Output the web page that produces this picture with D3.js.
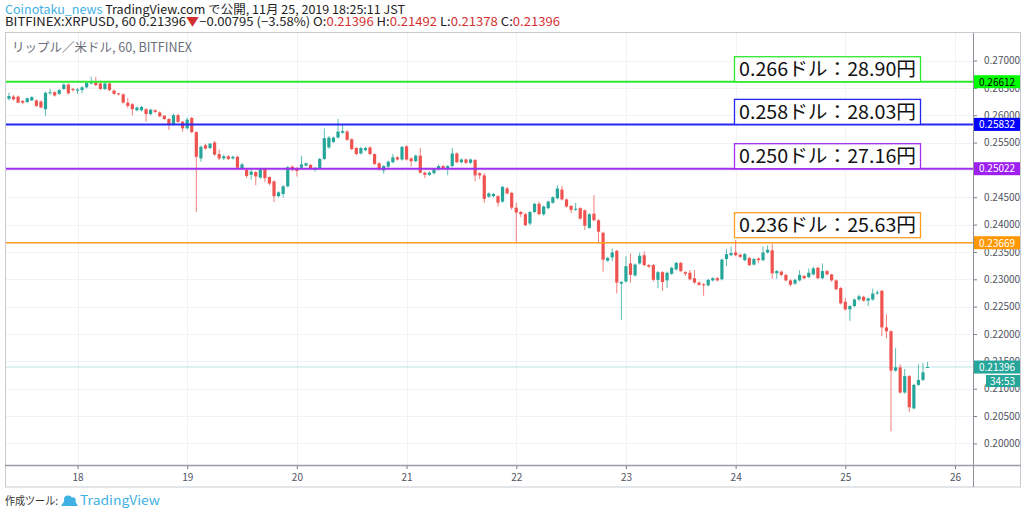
<!DOCTYPE html>
<html><head><meta charset="utf-8">
<script src="https://cdn.jsdelivr.net/npm/d3@7"></script>
<style>
body{margin:0;background:#fff}
svg{display:block}
text{font-family:'Noto Sans CJK JP','Noto Sans',sans-serif}
</style>
</head><body>
<svg id="c" width="1024" height="514"></svg>
<script>
// ===== DATA (1h candles, BITFINEX XRPUSD, from 2019-11-17 09:00) =====
const opens=[
0.2630,0.2634,0.2634,0.2626,0.2624,0.2627,0.2627,0.2625,0.2611,0.2640,
0.2642,0.2639,0.2648,0.2656,0.2648,0.2645,0.2646,0.2651,0.2658,0.2661,
0.2658,0.2648,0.2658,0.2645,0.2640,0.2638,0.2623,0.2620,0.2609,0.2609,
0.2611,0.2602,0.2609,0.2605,0.2599,0.2593,0.2583,0.2600,0.2588,0.2576,
0.2595,0.2569,0.2521,0.2545,0.2540,0.2550,0.2529,0.2521,0.2525,0.2521,
0.2524,
0.2503,0.2500,0.2491,0.2496,0.2486,0.2502,0.2487,0.2479,0.2452,0.2456,
0.2470,0.2506,0.2503,0.2504,0.2508,0.2509,0.2500,0.2503,0.2520,0.2541,
0.2551,0.2559,0.2568,0.2570,0.2556,0.2540,0.2530,
0.2536,0.2541,0.2529,0.2512,0.2499,0.2506,0.2514,0.2523,0.2519,0.2543,
0.2521,0.2516,0.2526,0.2495,0.2491,0.2494,0.2501,0.2507,0.2503,0.2507,
0.2530,0.2514,0.2519,0.2513,0.2518,0.2494,0.2490,
0.2451,0.2452,0.2452,0.2442,0.2466,0.2458,0.2431,0.2423,0.2419,0.2402,
0.2423,0.2438,0.2419,0.2430,0.2440,0.2448,0.2464,0.2446,0.2434,0.2427,
0.2430,0.2426,0.2394,0.2420,0.2408,0.2385,
0.2334,0.2340,0.2352,0.2292,0.2296,0.2329,0.2307,0.2329,0.2344,0.2326,
0.2326,0.2299,0.2313,0.2298,0.2310,0.2318,0.2330,0.2313,0.2312,0.2302,
0.2294,0.2291,0.2289,0.2298,0.2302,0.2300,
0.2337,0.2344,0.2349,0.2345,0.2335,0.2339,0.2327,0.2338,0.2335,0.2349,
0.2353,0.2311,0.2314,0.2308,0.2298,0.2292,0.2298,0.2306,0.2304,0.2309,
0.2321,0.2302,0.2315,0.2309,0.2298,0.2284,
0.2259,0.2245,0.2251,0.2263,0.2268,0.2261,0.2263,0.2274,0.2279,0.2212,
0.2205,0.2133,0.2139,0.2093,0.2123,0.2064,0.2107,0.2116,0.21396
];
const highs=[
0.2641,0.2637,0.2636,0.2628,0.2632,0.2635,0.2629,0.2627,0.2643,0.2648,
0.2644,0.2648,0.2658,0.2658,0.2650,0.2650,0.2653,0.2661,0.2670,0.2670,
0.2663,0.2661,0.2660,0.2647,0.2641,0.2640,0.2631,0.2622,0.2616,0.2617,
0.2613,0.2612,0.2611,0.2607,0.2600,0.2595,0.2603,0.2603,0.2590,0.2596,
0.2597,0.2571,0.2545,0.2548,0.2549,0.2553,0.2537,0.2528,0.2527,0.2526,
0.2526,
0.2513,0.2503,0.2500,0.2498,0.2504,0.2504,0.2488,0.2481,0.2461,0.2472,
0.2507,0.2508,0.2505,0.2526,0.2514,0.2511,0.2505,0.2522,0.2576,0.2562,
0.2561,0.2593,0.2582,0.2573,0.2558,0.2542,0.2542,
0.2542,0.2543,0.2530,0.2514,0.2509,0.2517,0.2529,0.2525,0.2544,0.2545,
0.2523,0.2528,0.2540,0.2497,0.2497,0.2503,0.2510,0.2509,0.2509,0.2540,
0.2532,0.2521,0.2521,0.2521,0.2520,0.2496,0.2494,
0.2459,0.2458,0.2454,0.2471,0.2469,0.2460,0.2440,0.2425,0.2421,0.2425,
0.2440,0.2442,0.2435,0.2444,0.2452,0.2472,0.2471,0.2448,0.2436,0.2440,
0.2432,0.2428,0.2421,0.2454,0.2410,0.2387,
0.2341,0.2356,0.2354,0.2297,0.2342,0.2347,0.2329,0.2349,0.2351,0.2328,
0.2328,0.2315,0.2315,0.2314,0.2323,0.2332,0.2332,0.2315,0.2317,0.2317,
0.2296,0.2293,0.2301,0.2304,0.2304,0.2338,
0.2355,0.2360,0.2372,0.2347,0.2348,0.2341,0.2339,0.2340,0.2360,0.2362,
0.2365,0.2317,0.2316,0.2310,0.2300,0.2301,0.2317,0.2308,0.2320,0.2323,
0.2323,0.2329,0.2317,0.2310,0.2300,0.2286,
0.2266,0.2253,0.2265,0.2272,0.2270,0.2267,0.2283,0.2280,0.2281,0.2236,
0.2207,0.2174,0.2145,0.2136,0.2125,0.2109,0.2145,0.2147,0.21492
];
const lows=[
0.2627,0.2627,0.2622,0.2620,0.2622,0.2626,0.2615,0.2613,0.2599,0.2637,
0.2634,0.2637,0.2646,0.2638,0.2643,0.2639,0.2640,0.2649,0.2656,0.2653,
0.2646,0.2646,0.2644,0.2637,0.2636,0.2621,0.2613,0.2600,0.2607,0.2607,
0.2588,0.2600,0.2604,0.2596,0.2591,0.2573,0.2581,0.2586,0.2570,0.2574,
0.2567,0.2423,0.2515,0.2537,0.2538,0.2526,0.2518,0.2518,0.2518,0.2519,
0.2500,
0.2500,0.2485,0.2482,0.2472,0.2484,0.2478,0.2472,0.2441,0.2450,0.2450,
0.2468,0.2497,0.2488,0.2502,0.2506,0.2500,0.2497,0.2501,0.2518,0.2539,
0.2549,0.2558,0.2566,0.2553,0.2536,0.2527,0.2528,
0.2534,0.2527,0.2509,0.2499,0.2493,0.2504,0.2512,0.2517,0.2517,0.2517,
0.2506,0.2514,0.2493,0.2485,0.2489,0.2492,0.2499,0.2501,0.2490,0.2505,
0.2512,0.2512,0.2511,0.2511,0.2479,0.2483,0.2440,
0.2449,0.2450,0.2433,0.2440,0.2455,0.2427,0.2367,0.2414,0.2397,0.2399,
0.2421,0.2417,0.2416,0.2428,0.2438,0.2446,0.2444,0.2431,0.2421,0.2425,
0.2409,0.2390,0.2392,0.2406,0.2366,0.2314,
0.2332,0.2333,0.2274,0.2226,0.2294,0.2294,0.2305,0.2327,0.2324,0.2321,
0.2296,0.2284,0.2279,0.2284,0.2308,0.2316,0.2313,0.2306,0.2298,0.2292,
0.2288,0.2270,0.2287,0.2296,0.2296,0.2298,
0.2324,0.2342,0.2342,0.2339,0.2333,0.2324,0.2325,0.2330,0.2333,0.2347,
0.2301,0.2301,0.2306,0.2296,0.2287,0.2290,0.2296,0.2300,0.2302,0.2307,
0.2300,0.2300,0.2307,0.2296,0.2280,0.2254,
0.2243,0.2224,0.2249,0.2261,0.2259,0.2251,0.2261,0.2272,0.2196,0.2192,
0.2022,0.2131,0.2091,0.2091,0.2057,0.2062,0.2105,0.2114,0.21378
];
const closes=[
0.2635,0.2629,0.2623,0.2623,0.2631,0.2633,0.2617,0.2614,0.2641,0.2642,
0.2636,0.2646,0.2656,0.2640,0.2646,0.2647,0.2651,0.2659,0.2662,0.2655,
0.2648,0.2658,0.2646,0.2639,0.2638,0.2623,0.2617,0.2611,0.2614,0.2615,
0.2602,0.2610,0.2606,0.2598,0.2593,0.2583,0.2600,0.2588,0.2576,0.2592,
0.2569,0.2524,0.2542,0.2539,0.2548,0.2528,0.2521,0.2525,0.2520,0.2524,
0.2504,
0.2510,0.2489,0.2497,0.2488,0.2502,0.2485,0.2475,0.2452,0.2459,0.2470,
0.2505,0.2500,0.2498,0.2510,0.2512,0.2502,0.2504,0.2520,0.2558,0.2559,
0.2559,0.2570,0.2571,0.2555,0.2538,0.2529,0.2540,
0.2540,0.2529,0.2511,0.2501,0.2507,0.2515,0.2523,0.2519,0.2542,0.2519,
0.2516,0.2526,0.2495,0.2491,0.2495,0.2501,0.2507,0.2503,0.2507,0.2530,
0.2514,0.2519,0.2513,0.2519,0.2490,0.2490,0.2447,
0.2457,0.2456,0.2440,0.2469,0.2457,0.2431,0.2422,0.2419,0.2399,0.2423,
0.2438,0.2419,0.2433,0.2442,0.2450,0.2466,0.2446,0.2433,0.2427,0.2429,
0.2411,0.2398,0.2419,0.2408,0.2387,0.2336,
0.2339,0.2349,0.2294,0.2295,0.2324,0.2308,0.2327,0.2343,0.2326,0.2323,
0.2299,0.2313,0.2295,0.2312,0.2321,0.2330,0.2315,0.2310,0.2300,0.2294,
0.2290,0.2289,0.2299,0.2302,0.2298,0.2336,
0.2346,0.2348,0.2344,0.2341,0.2346,0.2326,0.2337,0.2335,0.2349,0.2354,
0.2311,0.2315,0.2308,0.2298,0.2290,0.2299,0.2308,0.2302,0.2312,0.2320,
0.2302,0.2315,0.2309,0.2298,0.2282,0.2256,
0.2245,0.2251,0.2263,0.2269,0.2261,0.2265,0.2274,0.2276,0.2212,0.2205,
0.2133,0.2139,0.2093,0.2123,0.2066,0.2107,0.2116,0.2130,0.21396
];
const priceTicks=[0.200,0.205,0.210,0.215,0.220,0.225,0.230,0.235,0.240,0.245,0.250,0.255,0.260,0.265,0.270];
const dayTicks=[18,19,20,21,22,23,24,25,26];
const levelPrices=[0.26612,0.25832,0.25022,0.23669];
const levelNotes=["0.266ドル：28.90円","0.258ドル：28.03円","0.250ドル：27.16円","0.236ドル：25.63円"];
const lastPrice=0.21396;
const countdown="34:53";
const headerAuthor="Coinotaku_news";
const headerRest=" TradingView.com で公開, 11月 25, 2019 18:25:11 JST";
const symbolLine=[["BITFINEX:XRPUSD, 60 0.21396","k"],["▼","r"],["−0.00795 (−3.58%) O:","k"],["0.21396","r"],[" H:","k"],["0.21492","r"],[" L:","k"],["0.21378","r"],[" C:","k"],["0.21396","r"]];
const paneTitle="リップル／米ドル, 60, BITFINEX";

// ===== STYLE =====
const UP="#26a69a", DOWN="#ef5350";
const levelLine=["#2ee82e","#2727f5","#a02ff0","#ff9e1f"];
const levelTagBg=["#00ff00","#0000ff","#9d20f0","#ff9800"];
const levelTagFg=["#000","#fff","#fff","#fff"];
const boxBottomGap=[0,0,0,5];
const PL=5, PR=973, PT=33, PB=465, FB=487, FR=1021;

const svg=d3.select("#c");
const x=d3.scaleUtc().domain([Date.UTC(2019,10,18),Date.UTC(2019,10,26)]).range([77.5,955]);
const y=d3.scaleLinear().domain([0.20,0.27]).range([443.4,60.5]);
const t0=Date.UTC(2019,10,17,9);
const candles=closes.map((c,i)=>({t:new Date(t0+i*3600e3),o:opens[i],h:highs[i],l:lows[i],c}));

// header
const h1=svg.append("text").attr("x",5).attr("y",13.5).attr("font-size",12)
  .attr("textLength",400).attr("lengthAdjust","spacingAndGlyphs");
h1.append("tspan").attr("fill","#3fb1e3").text(headerAuthor);
h1.append("tspan").attr("fill","#222").text(headerRest);
const h2=svg.append("text").attr("x",5).attr("y",25.5).attr("font-size",12)
  .attr("textLength",555).attr("lengthAdjust","spacingAndGlyphs");
symbolLine.forEach(([s,c])=>h2.append("tspan").attr("fill",c==="r"?"#d32f2f":"#222").text(s));

// frame
svg.append("rect").attr("x",PL+0.5).attr("y",PT-0.5).attr("width",FR-PL-1).attr("height",FB-PT+0.5)
  .attr("fill","#fff").attr("stroke","#c9cbd0");

const clip=svg.append("defs").append("clipPath").attr("id","pc");
clip.append("rect").attr("x",PL+1).attr("y",PT).attr("width",PR-PL-1).attr("height",PB-PT);

// grid
const g=svg.append("g").attr("clip-path","url(#pc)");
g.selectAll(".vg").data(dayTicks).join("line")
  .attr("x1",d=>Math.round(x(Date.UTC(2019,10,d)))+0.5).attr("x2",d=>Math.round(x(Date.UTC(2019,10,d)))+0.5)
  .attr("y1",PT).attr("y2",PB).attr("stroke","#f0f2f7");
g.selectAll(".hg").data(priceTicks).join("line")
  .attr("x1",PL).attr("x2",PR).attr("y1",d=>Math.round(y(d))+0.5).attr("y2",d=>Math.round(y(d))+0.5)
  .attr("stroke","#f0f2f7");

// pane title
svg.append("text").attr("x",12).attr("y",52).attr("font-size",12.5).attr("fill","#6b6f7a")
  .attr("textLength",180).attr("lengthAdjust","spacingAndGlyphs").text(paneTitle);

// last price line
g.append("line").attr("x1",PL).attr("x2",PR).attr("y1",y(lastPrice)).attr("y2",y(lastPrice))
  .attr("stroke",UP).attr("stroke-opacity",0.3).attr("stroke-width",1);

// candles
const cw=3.2;
const cg=g.append("g");
cg.selectAll(".w").data(candles).join("line")
  .attr("x1",d=>x(d.t)).attr("x2",d=>x(d.t)).attr("y1",d=>y(d.h)).attr("y2",d=>y(d.l))
  .attr("stroke",d=>d.c>=d.o?UP:DOWN).attr("stroke-width",1).attr("stroke-opacity",0.75);
cg.selectAll(".b").data(candles).join("rect")
  .attr("x",d=>x(d.t)-cw/2).attr("width",cw)
  .attr("y",d=>y(Math.max(d.o,d.c))).attr("height",d=>Math.max(1,Math.abs(y(d.o)-y(d.c))))
  .attr("fill",d=>d.c>=d.o?UP:DOWN);

// level lines
g.selectAll(".lv").data(levelPrices).join("line")
  .attr("x1",PL).attr("x2",PR).attr("y1",d=>y(d)).attr("y2",d=>y(d))
  .attr("stroke",(d,i)=>levelLine[i]).attr("stroke-width",(d,i)=>i===3?1.6:2);

// note boxes
const nb=svg.append("g");
levelPrices.forEach((p,i)=>{
  const bottom=y(p)-boxBottomGap[i];
  nb.append("rect").attr("x",734.5).attr("y",bottom-25).attr("width",186).attr("height",25)
    .attr("fill","#fff").attr("stroke",levelLine[i]).attr("stroke-width",1.3);
  nb.append("text").attr("x",739).attr("y",bottom-5.5).attr("font-size",19).attr("fill","#111")
    .attr("textLength",177).attr("lengthAdjust","spacingAndGlyphs").text(levelNotes[i]);
});

// right axis
const ra=svg.append("g").attr("transform",`translate(${PR},0)`)
  .call(d3.axisRight(y).tickValues(priceTicks).tickFormat(d3.format(".5f")).tickSize(4).tickPadding(7));
ra.select(".domain").remove();
ra.selectAll(".tick line").attr("stroke","#7a7d85");
ra.selectAll(".tick text").attr("font-size",10).attr("fill","#50535e").attr("font-family","'Noto Sans',sans-serif");

// bottom axis
const ba=svg.append("g").attr("transform",`translate(0,${PB})`)
  .call(d3.axisBottom(x).tickValues(dayTicks.map(d=>new Date(Date.UTC(2019,10,d)))).tickFormat(d=>d.getUTCDate()).tickSize(4).tickPadding(5));
ba.select(".domain").remove();
ba.selectAll(".tick line").attr("stroke","#7a7d85");
ba.selectAll(".tick text").attr("font-size",10).attr("fill","#50535e").attr("font-family","'Noto Sans',sans-serif");

// separators
svg.append("line").attr("x1",PR+0.5).attr("x2",PR+0.5).attr("y1",PT).attr("y2",FB).attr("stroke","#8d9099");
svg.append("line").attr("x1",PL).attr("x2",FR).attr("y1",PB+0.5).attr("y2",PB+0.5).attr("stroke","#9a9da5").attr("stroke-width",1.6);

// price tags
const tags=svg.append("g");
levelPrices.forEach((p,i)=>{
  tags.append("rect").attr("x",PR+1).attr("y",y(p)-6.5).attr("width",46).attr("height",13).attr("fill",levelTagBg[i]);
  tags.append("text").attr("x",PR+6).attr("y",y(p)+3.8).attr("font-size",10).attr("fill",levelTagFg[i])
    .attr("font-family","'Noto Sans',sans-serif").text(d3.format(".5f")(p));
});
tags.append("rect").attr("x",PR+1).attr("y",y(lastPrice)-6.5).attr("width",46).attr("height",13).attr("fill",UP);
tags.append("text").attr("x",PR+6).attr("y",y(lastPrice)+3.8).attr("font-size",10).attr("fill","#fff")
  .attr("font-family","'Noto Sans',sans-serif").text(d3.format(".5f")(lastPrice));
tags.append("rect").attr("x",PR+13).attr("y",y(lastPrice)+8).attr("width",34).attr("height",12).attr("fill",UP);
tags.append("text").attr("x",PR+17).attr("y",y(lastPrice)+17.5).attr("font-size",10).attr("fill","#fff")
  .attr("font-family","'Noto Sans',sans-serif").text(countdown);

// footer
svg.append("text").attr("x",5).attr("y",505).attr("font-size",11.5).attr("fill","#333")
  .attr("textLength",53).attr("lengthAdjust","spacingAndGlyphs").text("作成ツール:");
const logo=svg.append("g").attr("transform","translate(61,494)");
logo.append("path").attr("d","M0,12 L6,3 L9,7 L12,4 L17,12 Z").attr("fill","#3fb1e3");
logo.append("circle").attr("cx",7).attr("cy",5.5).attr("r",4).attr("fill","#3fb1e3");
logo.append("circle").attr("cx",11.5).attr("cy",6.5).attr("r",3.2).attr("fill","#3fb1e3");
svg.append("text").attr("x",80).attr("y",505).attr("font-size",12.5).attr("fill","#3fb1e3")
  .attr("textLength",80).attr("lengthAdjust","spacingAndGlyphs").text("TradingView");
</script>
</body></html>
